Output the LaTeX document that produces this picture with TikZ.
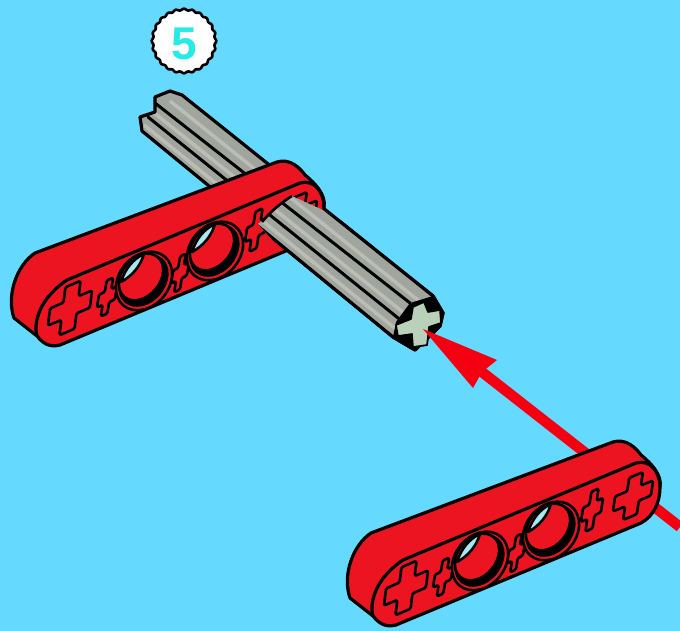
\documentclass[tikz,border=0pt]{standalone}
\usepackage{fontspec}
\setmainfont{Liberation Sans}
\definecolor{sky}{RGB}{102,217,255}
\definecolor{brick}{RGB}{236,20,32}
\definecolor{axle}{RGB}{160,165,158}
\definecolor{axlehi}{RGB}{188,190,182}
\definecolor{axleend}{RGB}{185,208,185}
\definecolor{arrowred}{RGB}{245,0,16}
\definecolor{sliver}{RGB}{170,230,240}
\definecolor{digit}{RGB}{40,235,230}
\tikzset{
  outline/.style={draw=black,line width=3.2pt,line join=round},
  thinline/.style={draw=black,line width=2.6pt,line join=round},
  groove/.style={draw=black,line width=3pt,line cap=round},
  sheen/.style={draw=axlehi,line width=3.5pt},
}
\newcommand\crossmark[6]{%
  \begin{scope}[shift={(#1,#2)}]
  \begin{scope}[x={(#3pt,#4pt)},y={(#5pt,#6pt)}]
    \draw[thinline,fill=brick,rounded corners=1.5pt]
      (-.36,1)--(.36,1)--(.36,.36)--(1,.36)--(1,-.36)--(.36,-.36)--(.36,-1)--(-.36,-1)--(-.36,-.36)--(-1,-.36)--(-1,.36)--(-.36,.36)--cycle;
  \end{scope}
  \end{scope}}
\newcommand\holemark[2]{%
  \begin{scope}[shift={(#1,#2)}]
    \draw[thinline,fill=brick] (2,2) ellipse [x radius=32pt,y radius=25pt,rotate=50];
    \fill[black] (1.5,1.5) ellipse [x radius=29pt,y radius=22pt,rotate=50];
    \draw[thinline,fill=brick] (-1,-2) ellipse [x radius=26pt,y radius=19pt,rotate=50];
    \draw[thinline,fill=sliver] (-21,3) .. controls (-17,-10) and (-9,-20) .. (2,-25)
       .. controls (-2,-12) and (-10,-3) .. (-21,3) -- cycle;
  \end{scope}}
\newcommand\barbody{%
  \draw[outline,fill=brick] (35,253) -- (277,162)
     .. controls (290,158) and (300,168) .. (305,175)
     .. controls (316,184) and (326,195) .. (324,207)
     .. controls (324,222) and (318,236) .. (305,243)
     -- (60,345) .. controls (48,348) and (42,342) .. (37,336)
     -- (14,318) .. controls (6,295) and (17,265) .. (35,253) -- cycle;
  \draw[outline] (37,336) .. controls (33,322) and (40,298) .. (67,280)
     -- (300,183) .. controls (314,179) and (324,192) .. (324,207);
  \crossmark{70}{308}{21}{9}{-3}{-24}
  \crossmark{107}{297}{9}{4}{-3}{-18}
  \crossmark{180}{273}{8}{4}{-3}{-18}
  \crossmark{256}{230}{10}{5}{-3}{-20}
  \crossmark{297}{216}{19}{8}{-3}{-21}
  \holemark{142}{279}
  \holemark{213}{249}
}
\newcommand\axlebody{%
  \fill[axle] (155,97) -- (170,91) -- (182,95) -- (433,296) -- (443,313) -- (440,326)
     -- (415,350) -- (393,337) -- (142,131) -- (140,117) -- (155,112) -- cycle;
  \draw[sheen] (170,101) -- (424,305);
  \draw[sheen] (153,112) -- (404,313);
  \draw[sheen] (144,125) -- (397,330);
  \draw[outline] (155,112) -- (155,97) -- (170,91) -- (182,95) -- (433,296) -- (443,313) -- (440,326)
     -- (415,350) -- (393,337) -- (142,131) -- (140,117) -- cycle;
  \draw[groove] (155,103) -- (410,303);
  \draw[groove] (148,117) -- (403,322);
  \fill[black] (410,303) -- (433,296) -- (443,313) -- (440,326) -- (415,350) -- (393,337) -- (396,322) -- cycle;
  \draw[draw=black,line width=1.6pt,fill=axleend,line join=round]
     (413,307) -- (424,302) -- (428,312) -- (440,310) -- (441,323) -- (429,327)
     -- (427,345) -- (413,347) -- (412,334) -- (398,336) -- (396,325) -- (411,319) -- cycle;
}
\begin{document}
\begin{tikzpicture}[x=1pt,y=-1pt]
  \useasboundingbox (0,0) rectangle (680,631);
  \fill[sky] (0,0) rectangle (680,631);

  % step badge
  \fill[white] plot[domain=0:360,samples=181,smooth] ({184+(31.5+.8*cos(24*\x))*cos(\x)},{41+(31.5+.8*cos(24*\x))*sin(\x)}) -- cycle;
  \draw[thinline] plot[domain=0:360,samples=181,smooth] ({184+(31.5+.8*cos(24*\x))*cos(\x)},{41+(31.5+.8*cos(24*\x))*sin(\x)}) -- cycle;
  \node[inner sep=0pt,text=digit,font=\fontsize{46}{46}\selectfont\bfseries] (badge) at (184,44) {5};

  % axle, then the beam over it, then the axle end coming out of the beam
  \axlebody
  \barbody
  \begin{scope}
    \clip (292,196) -- (325,211) -- (350,225) -- (460,300) -- (460,360) -- (380,360) -- (258,224) -- cycle;
    \axlebody
  \end{scope}
  \coordinate (holetop) at (292,196);
  \coordinate (holeleft) at (262,222);
  \draw[thinline] (holetop) .. controls (282,202) and (270,212) .. (holeleft);

  % arrow
  \coordinate (tip) at (423,329);
  \coordinate (neck) at (482,372);
  \coordinate (tail) at (680,527);
  \draw[arrowred,line width=10.5pt] (neck) -- (tail);
  \fill[arrowred] (tip) -- (497,360) -- (482,372) -- (473,388) -- cycle;

  % second beam
  \begin{scope}[shift={(336,280)}]
    \barbody
  \end{scope}
\end{tikzpicture}
\end{document}
